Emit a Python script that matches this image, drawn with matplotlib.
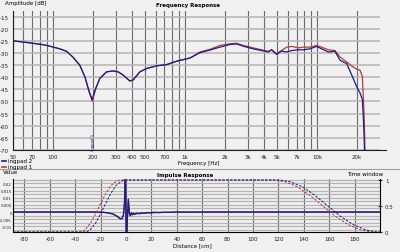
import matplotlib
matplotlib.use("Agg")
import matplotlib.pyplot as plt
from matplotlib.ticker import FixedLocator, NullFormatter
from matplotlib.lines import Line2D

# frequency response
freq_red = [50, 60, 70.6, 85, 95, 113, 127, 142, 160, 175, 188, 199, 210, 227, 255,
            286, 313, 341, 383, 406, 456, 513, 611, 727, 865, 1091, 1300, 1547, 1841,
            2193, 2464, 2766, 3292, 3811, 4278, 4535, 4947, 5395, 5888, 6429, 7224,
            7879, 8844, 9953, 10850, 12190, 13690, 14940, 16790, 18330, 19990, 21180,
            22070, 22700, 23100]
db_red = [-25.0, -25.5, -26.0, -26.6, -27.2, -28.3, -29.3, -31.7, -35.0, -39.8, -45.9,
          -50.0, -45.2, -40.5, -37.8, -37.4, -37.8, -39.1, -41.6, -41.1, -37.8, -36.4,
          -35.3, -34.8, -33.4, -32.1, -29.6, -28.5, -26.9, -26.2, -26.0, -26.9, -27.9,
          -28.7, -29.3, -28.7, -30.3, -29.0, -27.6, -27.3, -27.9, -27.6, -27.6, -26.9,
          -27.6, -28.7, -29.0, -31.7, -33.7, -35.4, -36.7, -37.1, -39.8, -55.0, -70.0]

freq_blue = [50, 60, 70.6, 85, 95, 113, 127, 142, 160, 175, 188, 199, 210, 227, 255,
             286, 313, 341, 383, 406, 456, 513, 611, 727, 865, 1091, 1300, 1547, 1841,
             2193, 2464, 2766, 3292, 3811, 4278, 4535, 4947, 5395, 5888, 6429, 7224,
             7879, 8844, 9953, 10850, 12190, 13690, 14940, 16790, 18330, 19990, 21180,
             22070, 22600, 22900]
db_blue = [-25.0, -25.5, -26.0, -26.6, -27.2, -28.3, -29.3, -31.7, -35.0, -39.8, -45.6,
           -49.2, -45.0, -40.5, -37.8, -37.4, -37.8, -39.1, -41.5, -41.1, -37.8, -36.4,
           -35.3, -34.8, -33.4, -32.1, -29.9, -28.8, -27.6, -26.5, -26.3, -27.2, -28.3,
           -29.0, -29.6, -28.7, -30.6, -29.2, -29.6, -29.0, -28.7, -28.7, -28.3, -27.3,
           -28.3, -29.6, -29.3, -33.0, -34.4, -39.1, -43.9, -46.5, -49.2, -60.0, -70.0]

freq_ticks = [50, 70, 100, 200, 300, 400, 500, 700, 1000, 2000, 3000, 4000, 5000,
              7000, 10000, 20000]
freq_labels = ["50", "70", "100", "200", "300", "400", "500", "700", "1k", "2k", "3k",
               "4k", "5k", "7k", "10k", "20k"]
freq_minor = [60, 80, 90, 600, 800, 900, 6000, 8000, 9000]
db_ticks = [-15, -20, -25, -30, -35, -40, -45, -50, -55, -60, -65, -70]

# impulse response (distance in cm)
dist_blue = [-89, -25, -18, -14, -10, -7, -4.5, -3, -2, -1.2, -0.5, 0.3, 1.0, 1.8, 2.6,
             3.3, 4.2, 5, 6, 7, 8.5, 10, 12, 14, 16, 19, 22, 26, 30, 35, 40, 50, 60, 200]
imp_blue = [0, 0, -0.0002, -0.0006, -0.0015, -0.003, -0.0048, -0.0045, -0.002, 0.006,
            0.03, -0.03, -0.005, 0.009, -0.001, -0.0025, -0.0005, -0.0018, -0.0008,
            -0.0015, -0.0007, -0.0012, -0.0006, -0.0009, -0.0004, -0.0006, -0.0002,
            -0.0004, -0.0001, -0.0002, 0, -0.0001, 0, 0]
dist_red = [-89, -25, -18, -14, -10, -7, -4.5, -3, -2, -1.2, -0.5, 0.4, 1.1, 1.9, 2.7,
            3.5, 4.4, 5.3, 6.3, 7.5, 9, 11, 13, 15, 18, 21, 25, 30, 40, 60, 200]
imp_red = [0, 0, -0.0002, -0.0006, -0.0015, -0.003, -0.0047, -0.0044, -0.002, 0.006,
           0.03, -0.03, -0.004, 0.008, -0.0015, -0.0028, -0.0008, -0.0021, -0.001,
           -0.0017, -0.0009, -0.0013, -0.0007, -0.001, -0.0005, -0.0006, -0.0003,
           -0.0003, 0, 0, 0]
dist_ticks = [-80, -60, -40, -20, 0, 20, 40, 60, 80, 100, 120, 140, 160, 180]
val_ticks = [0.02, 0.015, 0.01, 0.005, 0, -0.005, -0.01]
val_labels = ["0.02", "0.015", "0.01", "0.005", "0", "-0.005", "-0.01"]

# time windows
win_dist_red = [-89, -35, -32, -28, -24, -20, -16, -12, -8, -5, 116, 125, 135, 145,
                155, 165, 175, 185, 193, 200]
win_red = [0, 0, 0.05, 0.17, 0.35, 0.55, 0.74, 0.89, 0.97, 1.0, 1.0, 0.97, 0.87, 0.70,
           0.50, 0.30, 0.14, 0.04, 0.0, 0.0]
win_dist_blue = [-89, -31, -28, -24, -20, -16, -12, -8, -4, -1, 120, 129, 139, 149,
                 159, 169, 179, 189, 197, 200]
win_blue = [0, 0, 0.05, 0.17, 0.35, 0.55, 0.74, 0.89, 0.97, 1.0, 1.0, 0.97, 0.87, 0.70,
            0.50, 0.30, 0.14, 0.04, 0.0, 0.0]

BG = "#f0f0f0"
RED = "#b83a3a"
NAVY = "#1c1c84"
VGRID = "#6a6a6a"
HGRID = "#b4b4b4"
FS = 4

W, H = 400.0, 253.0
def fx(px):
    return px / W
def fy(py):
    return 1 - py / H

fig = plt.figure(figsize=(4, 2.53), dpi=100, facecolor=BG)

# ---- frequency response ----
ax = fig.add_axes([fx(13), fy(151), fx(380) - fx(13), fy(12) - fy(151)], facecolor=BG)
ax.set_xscale("log")
ax.set_xlim(50, 30000)
ax.set_ylim(-70, -12.7)
ax.xaxis.set_major_locator(FixedLocator(freq_ticks))
ax.xaxis.set_minor_locator(FixedLocator(freq_minor))
ax.xaxis.set_minor_formatter(NullFormatter())
ax.set_xticklabels(freq_labels)
ax.set_yticks(db_ticks)
ax.set_yticklabels([str(d) for d in db_ticks])
ax.tick_params(which="both", length=0, labelsize=FS, pad=3, colors="#202020")
ax.grid(True, which="both", axis="x", color=VGRID, lw=0.8)
ax.grid(True, which="major", axis="y", color=HGRID, lw=1.1)
ax.set_axisbelow(True)
for s in ["top", "right"]:
    ax.spines[s].set_visible(False)
ax.spines["left"].set_color("#202020")
ax.spines["bottom"].set_color("#202020")
ax.spines["left"].set_linewidth(0.8)
ax.spines["bottom"].set_linewidth(0.8)
ax.plot(freq_red, db_red, color=RED, lw=0.9, clip_on=True)
ax.plot(freq_blue, db_blue, color=NAVY, lw=0.9, clip_on=True)
ax.text(200, -70, "ingpad 1", rotation=90, fontsize=2.8, color=NAVY,
        ha="center", va="bottom")
fig.add_artist(Line2D([fx(380), fx(386)], [fy(151), fy(151)], color="#202020", lw=0.8))

fig.text(fx(5), fy(3.5), "Amplitude [dB]", fontsize=FS, va="center", ha="left")
fig.text(fx(188), fy(5), "Frequency Response", fontsize=FS, fontweight="bold",
         va="center", ha="center")
fig.text(fx(178), fy(163), "Frequency [Hz]", fontsize=FS, va="center", ha="left")

# legend
fig.add_artist(Line2D([fx(2), fx(6)], [fy(162), fy(162)], color=NAVY, lw=1.2))
fig.add_artist(Line2D([fx(2), fx(6)], [fy(167.5), fy(167.5)], color=RED, lw=1.2))
fig.text(fx(8), fy(162), "ingpad 2", fontsize=FS, va="center", ha="left")
fig.text(fx(8), fy(167.5), "ingpad 1", fontsize=FS, va="center", ha="left")

# separator
fig.add_artist(Line2D([0, 1], [fy(170), fy(170)], color="#a0a0a0", lw=0.8))

# ---- impulse response ----
bx = fig.add_axes([fx(13), fy(233), fx(380) - fx(13), fy(180) - fy(233)], facecolor=BG)
bx.set_xlim(-89, 200)
bx.set_ylim(-0.01399, 0.0231)
bx.set_xticks(dist_ticks)
bx.set_xticklabels([str(d) for d in dist_ticks])
bx.set_yticks(val_ticks)
bx.set_yticklabels(val_labels)
bx.yaxis.set_minor_locator(FixedLocator([0.0225, 0.0175, 0.0125, 0.0075, 0.0025,
                                          -0.0025, -0.0075, -0.0125]))
bx.tick_params(axis="x", which="both", length=0, labelsize=FS, pad=3, colors="#202020")
bx.tick_params(axis="y", which="both", length=0, labelsize=2.9, pad=0.8, colors="#202020")
bx.grid(True, which="major", axis="x", color=VGRID, lw=0.8)
bx.grid(True, which="both", axis="y", color=HGRID, lw=0.9)
bx.set_axisbelow(True)
for s in ["top", "right"]:
    bx.spines[s].set_visible(False)
bx.spines["left"].set_linewidth(0.8)
bx.spines["bottom"].set_linewidth(0.8)
bx.plot(dist_red, imp_red, color=RED, lw=0.8)
bx.plot(dist_blue, imp_blue, color=NAVY, lw=1.0)

wx = bx.twinx()
wx.set_ylim(0, 1.019)
wx.set_yticks([0, 0.5, 1])
wx.set_yticklabels(["0", "0.5", "1"])
wx.tick_params(length=3, width=0.8, direction="inout", labelsize=FS, pad=2,
               colors="#202020")
for s in ["top", "left", "bottom"]:
    wx.spines[s].set_visible(False)
wx.spines["right"].set_linewidth(0.8)
wx.plot(win_dist_red, win_red, color=RED, lw=0.7, ls=(0, (2.5, 1.5)))
wx.plot(win_dist_blue, win_blue, color=NAVY, lw=0.7, ls=(0, (2.5, 1.5)))

fig.text(fx(3), fy(173), "Value", fontsize=FS, va="center", ha="left")
fig.text(fx(185), fy(176), "Impulse Response", fontsize=FS, fontweight="bold",
         va="center", ha="center")
fig.text(fx(365), fy(174), "Time window", fontsize=FS, va="center", ha="center")
fig.text(fx(192), fy(246), "Distance [cm]", fontsize=FS, va="center", ha="center")

fig.savefig("out.png", dpi=100, facecolor=BG)
